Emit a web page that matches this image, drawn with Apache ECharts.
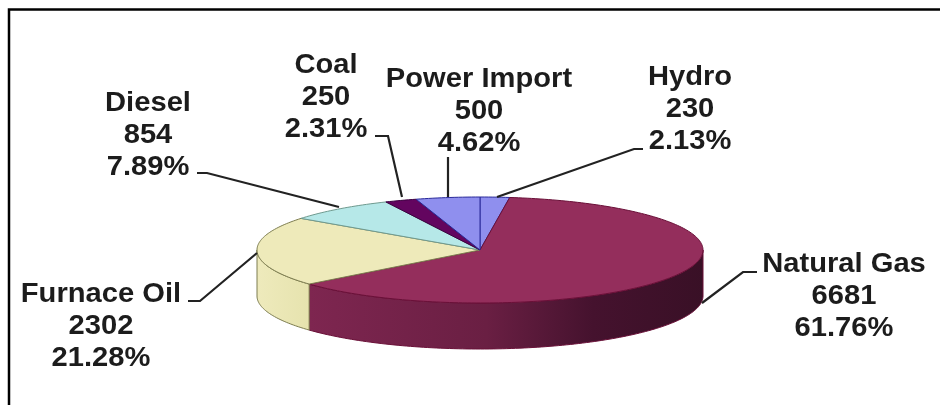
<!DOCTYPE html>
<html><head><meta charset="utf-8">
<style>html,body{margin:0;padding:0;background:#fff}#c{width:940px;height:405px}</style>
<script src="https://cdn.jsdelivr.net/npm/echarts@6/dist/echarts.min.js"></script>
</head><body><div id="c"></div>
<script>
// ---- data (clockwise from 12 o'clock)
const categories = ['Hydro','Natural Gas','Furnace Oil','Diesel','Coal','Power Import'];
const values = [230,6681,2302,854,250,500];
const percentLabels = ['2.13%','61.76%','21.28%','7.89%','2.31%','4.62%'];
// ---- style / layout
const topColors = ['#8f8fee','#942e5c','#eeeaba','#b6e8e8','#63055f','#8f8fee'];
const edgeColors = ['#2a2a9a','#6a1038','#7d7d50','#6f9a8f','#3c0040','#2a2a9a'];
const wallColors = [null,
  {type:'linear',x:0,y:0,x2:1,y2:0,colorStops:[{offset:0,color:'#7e2650'},{offset:.45,color:'#6a1f43'},{offset:.72,color:'#45122e'},{offset:1,color:'#391026'}]},
  {type:'linear',x:0,y:0,x2:1,y2:0,colorStops:[{offset:0,color:'#eeeabc'},{offset:1,color:'#e6e3ae'}]},
  null,null,null];
const cx=480, cy=250, rx=223, ry=53, depth=46;
const labelCenters = [[690,109],[844,296],[101,326],[148,135],[326,97],[479,111]];
const leaders = [
  [[643,149],[634,149],[497,197]],
  [[757,272],[743,272],[702,303]],
  [[188,301],[200,301],[257,253]],
  [[197,173],[207,173],[339,207]],
  [[375,136],[388,136],[402,197]],
  [[448,157],[448,197]]
];
const total = values.reduce((a,b)=>a+b,0);
let acc=0;
const spans = values.map(v=>{const s=acc/total*Math.PI*2; acc+=v; return [s,acc/total*Math.PI*2];});
const pt=(a,dy)=>[cx+rx*Math.sin(a),cy-ry*Math.cos(a)+(dy||0)];
function arc(a,b,dy){const n=Math.max(4,Math.ceil(Math.abs(b-a)/0.02));const o=[];for(let i=0;i<=n;i++)o.push(pt(a+(b-a)*i/n,dy));return o;}
function renderItem(params,api){
  const i=params.dataIndex, s=spans[i][0], e=spans[i][1];
  const kids=[];
  const a=Math.max(s,Math.PI/2), b=Math.min(e,Math.PI*1.5);
  if(b>a){
    kids.push({type:'polygon',shape:{points:arc(a,b,0).concat(arc(b,a,depth))},
      style:{fill:wallColors[i]||topColors[i],stroke:edgeColors[i],lineWidth:1}});
  }
  kids.push({type:'polygon',shape:{points:[[cx,cy]].concat(arc(s,e,0))},
    style:{fill:topColors[i],stroke:edgeColors[i],lineWidth:1}});
  kids.push({type:'polyline',shape:{points:leaders[i]},z2:5,style:{fill:null,stroke:'#222',lineWidth:2.2}});
  kids.push({type:'text',x:labelCenters[i][0],y:labelCenters[i][1],scaleX:1.06,z2:6,style:{
    text:categories[i]+'\n'+api.value(0)+'\n'+percentLabels[i],
    align:'center',verticalAlign:'middle',fill:'#1c1c1c',
    font:'bold 27.5px "Liberation Sans", Arial, sans-serif',lineHeight:32}});
  return {type:'group',children:kids};
}
const chart=echarts.init(document.getElementById('c'),null,{renderer:'canvas'});
chart.setOption({
  animation:false,
  backgroundColor:'#fff',
  graphic:[{type:'polyline',silent:true,shape:{points:[[9,405],[9,9.5],[940,9.5]]},style:{fill:null,stroke:'#000',lineWidth:2.5}}],
  series:[{type:'custom',coordinateSystem:'none',renderItem:renderItem,data:values.map(v=>[v])}]
});
</script></body></html>
